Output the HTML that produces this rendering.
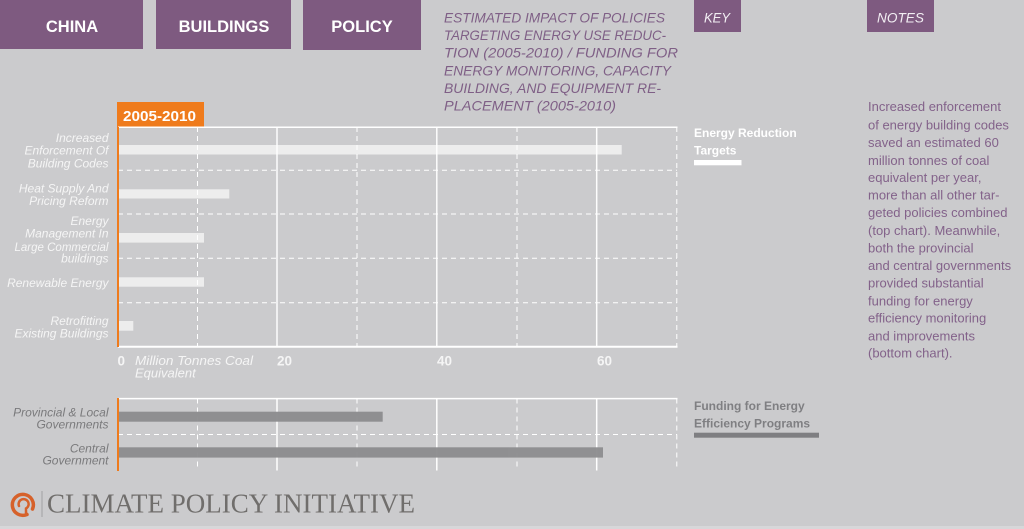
<!DOCTYPE html>
<html><head><meta charset="utf-8"><style>
html,body{margin:0;padding:0;background:#cbcbcd;}
svg{display:block;}
text{font-family:"Liberation Sans",sans-serif;}
</style></head><body>
<svg width="1024" height="529" viewBox="0 0 1024 529" xmlns="http://www.w3.org/2000/svg">
<rect width="1024" height="529" fill="#cbcbcd"/>
<rect x="0" y="526" width="1024" height="3" fill="#d7d7d9"/>

<!-- header boxes -->
<rect x="0" y="0" width="143" height="49" fill="#7e5a80"/>
<rect x="156" y="0" width="135" height="49" fill="#7e5a80"/>
<rect x="303" y="0" width="118" height="50" fill="#7e5a80"/>
<g font-weight="bold" font-size="16.5" fill="#ffffff" text-anchor="middle">
<text x="72" y="32">CHINA</text>
<text x="224" y="32">BUILDINGS</text>
<text x="362" y="32">POLICY</text>
</g>

<!-- title -->
<g font-style="italic" font-size="14" fill="#7f5f86">
<text x="444" y="22.3" textLength="221" lengthAdjust="spacingAndGlyphs">ESTIMATED IMPACT OF POLICIES</text>
<text x="444" y="40" textLength="222" lengthAdjust="spacingAndGlyphs">TARGETING ENERGY USE REDUC-</text>
<text x="444" y="57.6" textLength="234" lengthAdjust="spacingAndGlyphs">TION (2005-2010) / FUNDING FOR</text>
<text x="444" y="75.5" textLength="227" lengthAdjust="spacingAndGlyphs">ENERGY MONITORING, CAPACITY</text>
<text x="444" y="93" textLength="217" lengthAdjust="spacingAndGlyphs">BUILDING, AND EQUIPMENT RE-</text>
<text x="444" y="110.7" textLength="172" lengthAdjust="spacingAndGlyphs">PLACEMENT (2005-2010)</text>
</g>

<!-- KEY / NOTES boxes -->
<rect x="694" y="0" width="47" height="32" fill="#7e5a80"/>
<rect x="867" y="0" width="67" height="32" fill="#7e5a80"/>
<g font-style="italic" font-size="14" fill="#f2eef3">
<text x="704" y="22.3" textLength="26" lengthAdjust="spacingAndGlyphs">KEY</text>
<text x="877" y="22.3" textLength="47" lengthAdjust="spacingAndGlyphs">NOTES</text>
</g>

<!-- notes -->
<g font-size="13" fill="#83628a">
<text x="868" y="111">Increased enforcement</text>
<text x="868" y="129.3">of energy building codes</text>
<text x="868" y="147">saved an estimated 60</text>
<text x="868" y="164.8">million tonnes of coal</text>
<text x="868" y="182.2">equivalent per year,</text>
<text x="868" y="199.7">more than all other tar-</text>
<text x="868" y="217.2">geted policies combined</text>
<text x="868" y="235">(top chart). Meanwhile,</text>
<text x="868" y="252.5">both the provincial</text>
<text x="868" y="270">and central governments</text>
<text x="868" y="287.6">provided substantial</text>
<text x="868" y="305.3">funding for energy</text>
<text x="868" y="322.7">efficiency monitoring</text>
<text x="868" y="340.3">and improvements</text>
<text x="868" y="357.7">(bottom chart).</text>
</g>

<!-- legend -->
<g font-weight="bold" font-size="12">
<text x="694" y="137" fill="#ffffff">Energy Reduction</text>
<text x="694" y="154.5" fill="#ffffff">Targets</text>
<text x="694" y="410" fill="#7f7f82">Funding for Energy</text>
<text x="694" y="427.5" fill="#7f7f82">Efficiency Programs</text>
</g>
<rect x="694" y="160" width="47.5" height="5.3" fill="#ffffff"/>
<rect x="694" y="432.7" width="125" height="5" fill="#7f7f82"/>

<!-- top chart -->
<rect x="117" y="102" width="87" height="25.5" fill="#ef7b1c"/>
<text x="123" y="121" font-weight="bold" font-size="15" fill="#ffffff" textLength="73" lengthAdjust="spacingAndGlyphs">2005-2010</text>

<!-- bars top -->
<g fill="#ededed">
<rect x="118" y="145" width="503.7" height="9.5"/>
<rect x="118" y="189.3" width="111.3" height="9.2"/>
<rect x="118" y="233" width="86" height="9.6"/>
<rect x="118" y="277.3" width="86" height="9.4"/>
<rect x="118" y="321" width="15.3" height="9.7"/>
</g>

<g stroke="#ffffff" fill="none">
<g stroke-width="1" stroke-dasharray="5,4">
<line x1="118" y1="170.3" x2="677" y2="170.3"/>
<line x1="118" y1="214" x2="677" y2="214"/>
<line x1="118" y1="258.3" x2="677" y2="258.3"/>
<line x1="118" y1="302.7" x2="677" y2="302.7"/>
<line x1="197.5" y1="127" x2="197.5" y2="347"/>
<line x1="357" y1="127" x2="357" y2="347"/>
<line x1="517" y1="127" x2="517" y2="347"/>
<line x1="676.8" y1="127" x2="676.8" y2="347"/>
</g>
<g stroke-width="1.5" opacity="0.95">
<line x1="277" y1="127" x2="277" y2="347"/>
<line x1="436.8" y1="127" x2="436.8" y2="347"/>
<line x1="596.7" y1="127" x2="596.7" y2="347"/>
</g>
<line x1="118" y1="127.3" x2="677.5" y2="127.3" stroke-width="1.5"/>
<line x1="118" y1="346.7" x2="677.5" y2="346.7" stroke-width="2"/>
</g>
<line x1="118" y1="127" x2="118" y2="347" stroke="#ef7b1c" stroke-width="2"/>

<!-- labels top -->
<g font-style="italic" font-size="12" fill="#f5f5f5" text-anchor="end">
<text x="108.5" y="142">Increased</text>
<text x="108.5" y="154.6">Enforcement Of</text>
<text x="108.5" y="167.5">Building Codes</text>
<text x="108.5" y="192.6">Heat Supply And</text>
<text x="108.5" y="205.2">Pricing Reform</text>
<text x="108.5" y="225.2">Energy</text>
<text x="108.5" y="237.5">Management In</text>
<text x="108.5" y="251" textLength="94" lengthAdjust="spacingAndGlyphs">Large Commercial</text>
<text x="108.5" y="262.6">buildings</text>
<text x="108.5" y="287">Renewable Energy</text>
<text x="108.5" y="325">Retrofitting</text>
<text x="108.5" y="337.4">Existing Buildings</text>
</g>

<!-- x tick labels -->
<g font-weight="bold" font-size="13.5" fill="#f5f5f5">
<text x="117.5" y="365.5">0</text>
<text x="277" y="365.5">20</text>
<text x="437" y="365.5">40</text>
<text x="597" y="365.5">60</text>
</g>
<g font-style="italic" font-size="13" fill="#f5f5f5">
<text x="135" y="365" textLength="118" lengthAdjust="spacingAndGlyphs">Million Tonnes Coal</text>
<text x="135" y="377.5">Equivalent</text>
</g>

<!-- bottom chart -->
<g stroke="#ffffff" fill="none">
<g stroke-width="1" stroke-dasharray="5,4">
<line x1="118" y1="434.5" x2="677" y2="434.5"/>
<line x1="197.5" y1="398.5" x2="197.5" y2="470.5"/>
<line x1="357" y1="398.5" x2="357" y2="470.5"/>
<line x1="517" y1="398.5" x2="517" y2="470.5"/>
<line x1="676.8" y1="398.5" x2="676.8" y2="470.5"/>
</g>
<g stroke-width="1.5">
<line x1="277" y1="398.5" x2="277" y2="470.5"/>
<line x1="436.8" y1="398.5" x2="436.8" y2="470.5"/>
<line x1="596.7" y1="398.5" x2="596.7" y2="470.5"/>
</g>
<line x1="118" y1="398.6" x2="677.5" y2="398.6" stroke-width="1.5"/>
</g>
<g fill="#8c8c8e" opacity="0.95">
<rect x="118" y="411.7" width="264.7" height="10"/>
<rect x="118" y="447.3" width="485" height="10.3"/>
</g>
<line x1="118" y1="398" x2="118" y2="471" stroke="#ef7b1c" stroke-width="2"/>

<g font-style="italic" font-size="12" fill="#7a7a7c" text-anchor="end">
<text x="108.5" y="416.6">Provincial &amp; Local</text>
<text x="108.5" y="428.6">Governments</text>
<text x="108.5" y="452.6">Central</text>
<text x="108.5" y="464.6">Government</text>
</g>

<!-- logo -->
<g fill="none" stroke="#d6612a" stroke-linecap="round">
<path d="M 27 514.5 A 10.5 10.5 0 1 1 32.5 509" stroke-width="3.5"/>
<path d="M 19 506 A 5 5 0 1 1 26 508.5 L 26 515" stroke-width="2.5"/>
</g>
<line x1="42" y1="491" x2="42" y2="517" stroke="#a2a2a2" stroke-width="1"/>
<text x="47" y="512.7" font-family="Liberation Serif, serif" font-size="27" fill="#706e6c" textLength="368" lengthAdjust="spacingAndGlyphs" style="font-family:'Liberation Serif',serif">CLIMATE POLICY INITIATIVE</text>
</svg>
</body></html>
